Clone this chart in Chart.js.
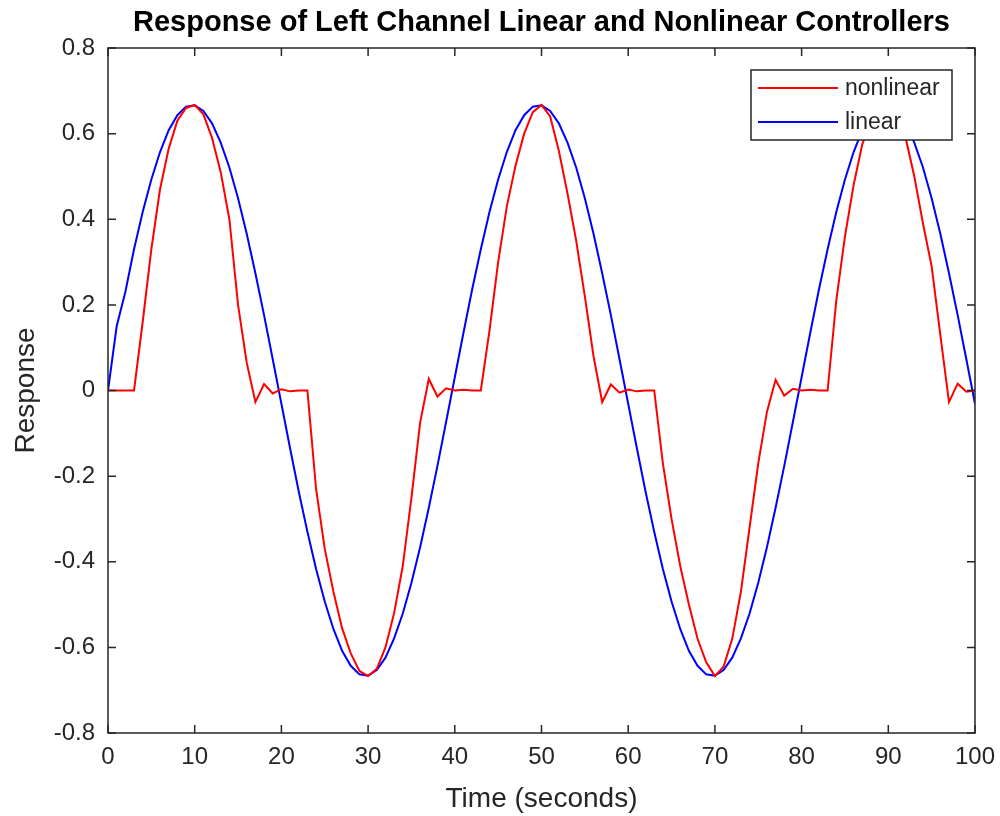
<!DOCTYPE html>
<html>
<head>
<meta charset="utf-8">
<script src="https://cdn.jsdelivr.net/npm/chart.js@4.4.1/dist/chart.umd.min.js"></script>
<style>
  body { margin: 0; background: #fff; }
  canvas { display: block; }
</style>
</head>
<body>
<canvas id="responseChart" width="1000" height="816"></canvas>
<script>
/* data */

const timeSec = [
    0,1,2,3,4,5,6,7,8,9,
    10,11,12,13,14,15,16,17,18,19,
    20,21,22,23,24,25,26,27,28,29,
    30,31,32,33,34,35,36,37,38,39,
    40,41,42,43,44,45,46,47,48,49,
    50,51,52,53,54,55,56,57,58,59,
    60,61,62,63,64,65,66,67,68,69,
    70,71,72,73,74,75,76,77,78,79,
    80,81,82,83,84,85,86,87,88,89,
    90,91,92,93,94,95,96,97,98,99,
    100
];

const nonlinearResp = [
    0,0,0,0,0.16,0.33,0.47,0.565,0.63,0.66,
    0.667,0.645,0.59,0.51,0.40,0.20,0.065,-0.027,0.015,-0.007,
    0.003,-0.002,0,0,-0.23,-0.37,-0.47,-0.555,-0.614,-0.655,
    -0.667,-0.65,-0.60,-0.52,-0.41,-0.25,-0.075,0.027,-0.014,0.005,
    0,0.002,0,0,0.14,0.30,0.43,0.525,0.60,0.65,
    0.667,0.64,0.56,0.46,0.35,0.22,0.08,-0.027,0.014,-0.005,
    0.002,-0.002,0,0,-0.17,-0.30,-0.41,-0.50,-0.58,-0.635,
    -0.667,-0.645,-0.58,-0.47,-0.32,-0.17,-0.05,0.025,-0.012,0.004,
    0,0.002,0,0,0.21,0.36,0.48,0.575,0.63,0.66,
    0.667,0.64,0.59,0.50,0.39,0.29,0.13,-0.027,0.016,-0.003,
    0
];

const linearResp = [
    0,0.15,0.23,0.33,0.417,0.493,0.557,0.608,0.643,0.663,
    0.666,0.653,0.624,0.579,0.521,0.449,0.366,0.274,0.176,0.073,
    -0.031,-0.135,-0.236,-0.33,-0.417,-0.493,-0.557,-0.608,-0.643,-0.663,
    -0.666,-0.653,-0.624,-0.579,-0.521,-0.449,-0.366,-0.274,-0.176,-0.073,
    0.031,0.135,0.236,0.33,0.417,0.493,0.557,0.608,0.643,0.663,
    0.666,0.653,0.624,0.579,0.521,0.449,0.366,0.274,0.176,0.073,
    -0.031,-0.135,-0.236,-0.33,-0.417,-0.493,-0.557,-0.608,-0.643,-0.663,
    -0.666,-0.653,-0.624,-0.579,-0.521,-0.449,-0.366,-0.274,-0.176,-0.073,
    0.031,0.135,0.236,0.33,0.417,0.493,0.557,0.608,0.643,0.663,
    0.666,0.653,0.624,0.579,0.521,0.449,0.366,0.274,0.176,0.073,
    -0.031
];

const seriesNames = ["nonlinear", "linear"];
const seriesColors = ["#ff0000", "#0000ff"];

const xRange = [0, 100];
const yRange = [-0.8, 0.8];
const xStep = 10;
const yStep = 0.2;

const FONT = "'Liberation Sans', Arial, Helvetica, sans-serif";
const AXIS_COLOR = "#262626";

function toPoints(values)
{
    return values.map((v, i) => ({ x: timeSec[i], y: v }));
}


/* box, inward ticks and legend like matlab */

const matlabBox = {
    id: "matlabBox",
    afterDraw(chart)
    {
        const ctx = chart.ctx;
        const area = chart.chartArea;
        const xs = chart.scales.x;
        const ys = chart.scales.y;
        const tick = 8;

        ctx.save();
        ctx.strokeStyle = AXIS_COLOR;
        ctx.lineWidth = 1.5;
        ctx.strokeRect(area.left, area.top, area.right - area.left, area.bottom - area.top);

        ctx.beginPath();
        xs.ticks.forEach(t => {
            const px = xs.getPixelForValue(t.value);
            ctx.moveTo(px, area.bottom);
            ctx.lineTo(px, area.bottom - tick);
            ctx.moveTo(px, area.top);
            ctx.lineTo(px, area.top + tick);
        });
        ys.ticks.forEach(t => {
            const py = ys.getPixelForValue(t.value);
            ctx.moveTo(area.left, py);
            ctx.lineTo(area.left + tick, py);
            ctx.moveTo(area.right, py);
            ctx.lineTo(area.right - tick, py);
        });
        ctx.stroke();

        // legend box, top right inside the axes
        const boxW = 201, boxH = 70;
        const bx = area.right - 23 - boxW;
        const by = area.top + 22;
        ctx.fillStyle = "#ffffff";
        ctx.fillRect(bx, by, boxW, boxH);
        ctx.strokeStyle = "#262626";
        ctx.lineWidth = 1.5;
        ctx.strokeRect(bx, by, boxW, boxH);

        ctx.font = "23px " + FONT;
        ctx.textBaseline = "middle";
        ctx.textAlign = "left";
        chart.data.datasets.forEach((ds, i) => {
            const ly = by + 18 + i * 34;
            ctx.strokeStyle = ds.borderColor;
            ctx.lineWidth = 2;
            ctx.beginPath();
            ctx.moveTo(bx + 7, ly);
            ctx.lineTo(bx + 87, ly);
            ctx.stroke();
            ctx.fillStyle = AXIS_COLOR;
            ctx.fillText(ds.label, bx + 94, ly + 1);
        });
        ctx.restore();
    }
};


/* CHART */

new Chart(
    document.getElementById("responseChart"),
    {
        type: "line",
        data: {
            datasets: [
                {
                    label: seriesNames[0],
                    data: toPoints(nonlinearResp),
                    borderColor: seriesColors[0],
                    borderWidth: 2,
                    pointRadius: 0,
                    tension: 0,
                    fill: false
                },
                {
                    label: seriesNames[1],
                    data: toPoints(linearResp),
                    borderColor: seriesColors[1],
                    borderWidth: 2,
                    pointRadius: 0,
                    tension: 0,
                    fill: false
                }
            ]
        },
        options: {
            responsive: false,
            animation: false,
            devicePixelRatio: 1,
            layout: { padding: { left: 0, right: 25, top: 0, bottom: 0 } },
            plugins: {
                legend: { display: false },
                tooltip: { enabled: false }
            },
            scales: {
                x: {
                    type: "linear",
                    position: "bottom",
                    min: xRange[0],
                    max: xRange[1],
                    afterFit(scale) {
                        scale.height = 83;
                        scale.paddingLeft = 0;
                        scale.paddingRight = 0;
                    },
                    ticks: {
                        stepSize: xStep,
                        padding: 10,
                        color: AXIS_COLOR,
                        font: { family: FONT, size: 24 },
                        maxRotation: 0
                    },
                    grid: { drawOnChartArea: false, drawTicks: false },
                    border: { display: false },
                    title: {
                        display: true,
                        text: "Time (seconds)",
                        color: AXIS_COLOR,
                        font: { family: FONT, size: 28 },
                        padding: { top: 0, bottom: 0 }
                    }
                },
                xTop: {
                    type: "linear",
                    position: "top",
                    min: xRange[0],
                    max: xRange[1],
                    afterFit(scale) {
                        scale.height = 48;
                        scale.paddingLeft = 0;
                        scale.paddingRight = 0;
                    },
                    ticks: { display: false },
                    grid: { display: false },
                    border: { display: false },
                    title: {
                        display: true,
                        text: "Response of Left Channel Linear and Nonlinear Controllers",
                        color: "#000000",
                        font: { family: FONT, size: 29, weight: "bold" },
                        padding: { top: 6, bottom: 0 }
                    }
                },
                y: {
                    type: "linear",
                    min: yRange[0],
                    max: yRange[1],
                    afterFit(scale) {
                        scale.width = 108;
                        scale.paddingTop = 0;
                        scale.paddingBottom = 0;
                    },
                    ticks: {
                        stepSize: yStep,
                        padding: 13,
                        color: AXIS_COLOR,
                        font: { family: FONT, size: 24 },
                        callback: v => Math.abs(v) < 1e-9 ? "0" : v.toFixed(1)
                    },
                    grid: { drawOnChartArea: false, drawTicks: false },
                    border: { display: false },
                    title: {
                        display: true,
                        text: "Response",
                        color: AXIS_COLOR,
                        font: { family: FONT, size: 28 },
                        padding: { top: 9, bottom: 0 }
                    }
                }
            }
        },
        plugins: [matlabBox]
    }
);
</script>
</body>
</html>
